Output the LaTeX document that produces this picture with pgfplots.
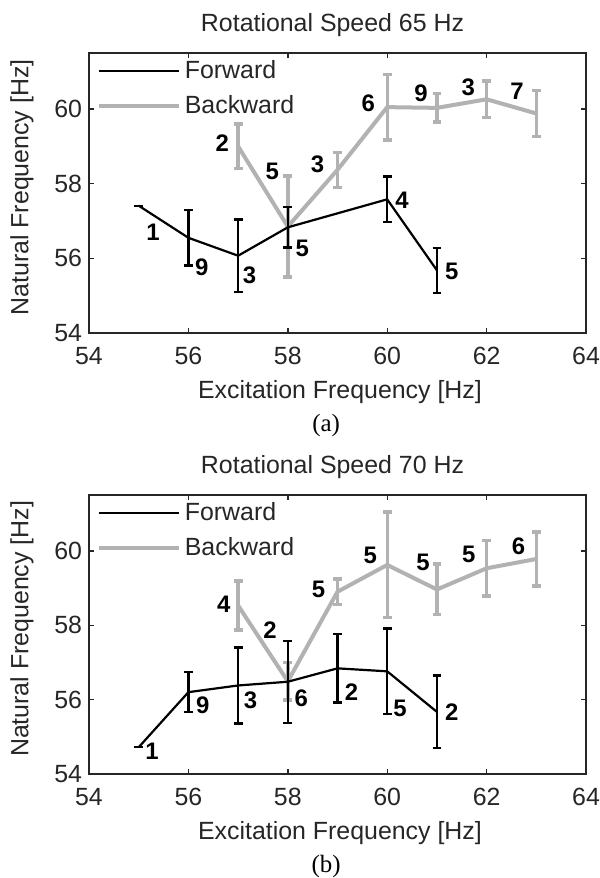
\documentclass[border=0pt]{standalone}
\usepackage{fontspec}
\setmainfont{Liberation Sans}
\newfontfamily\capfont{Liberation Serif}
\usepackage{pgfplots}
\usepackage{pgfplotstable}
\pgfplotsset{compat=1.18}
\definecolor{bwgray}{RGB}{178,178,178}
\definecolor{axcol}{RGB}{38,38,38}

% x = excitation freq, y = natural freq, e = +/- error, (lx,ly,lab) = sample count label
\pgfplotstableread{
x  y      e     lx     ly     lab
55 57.41  0     55.29  56.70  1
56 56.55  0.74  56.27  55.77  9
57 56.07  0.97  57.23  55.55  3
58 56.83  0.54  58.29  56.26  5
60 57.58  0.61  60.30  57.56  4
61 55.68  0.60  61.30  55.64  5
}\fwdA
\pgfplotstableread{
x  y      e     lx     ly     lab
57 59.00  0.60  56.68  59.09  2
58 56.85  1.35  57.69  58.34  5
59 58.37  0.47  58.60  58.52  3
60 60.05  0.88  59.62  60.14  6
61 60.03  0.38  60.68  60.42  9
62 60.26  0.49  61.63  60.57  3
63 59.88  0.61  62.61  60.48  7
}\bwdA
\pgfplotstableread{
x  y      e     lx     ly     lab
55 54.72  0     55.27  54.60  1
56 56.20  0.54  56.29  55.85  9
57 56.38  1.02  57.25  55.98  3
58 56.48  1.10  58.27  56.03  6
59 56.84  0.92  59.28  56.20  2
60 56.76  1.15  60.26  55.76  5
61 55.67  0.98  61.30  55.67  2
}\fwdB
\pgfplotstableread{
x  y      e     lx     ly     lab
57 58.53  0.66  56.71  58.56  4
58 56.49  0.50  57.64  57.87  2
59 58.90  0.34  58.62  58.96  5
60 59.62  1.42  59.66  59.89  5
61 58.96  0.68  60.72  59.70  5
62 59.53  0.75  61.64  59.91  5
63 59.78  0.73  62.64  60.12  6
}\bwdB

\pgfplotsset{
  legend image code/.code={\draw[#1] (0bp,0bp) -- (40bp,0bp);},
  freqax/.style={
    scale only axis, width=248.5bp, height=140bp,
    xmin=54, xmax=64, ymin=54, ymax=61.5,
    xtick={54,56,...,64}, ytick={54,56,58,60},
    tick align=inside, tick pos=both, major tick length=2.5bp,
    axis line style={axcol, line width=0.7bp},
    every tick/.style={axcol, line width=0.7bp},
    tick label style={font=\fontsize{12.5}{14}\selectfont, text=axcol},
    xticklabel style={yshift=-3.5bp},
    /pgf/number format/assume math mode=true,
    label style={font=\fontsize{12.5}{14}\selectfont, text=axcol},
    xlabel style={at={(axis description cs:0.505,-0.21)}, anchor=center},
    ylabel style={at={(axis description cs:-0.135,0.52)}, anchor=center},
    xlabel={Excitation Frequency [Hz]},
    ylabel={Natural Frequency [Hz]},
    legend style={at={(axis description cs:0.003,1.003)}, anchor=north west,
      draw=none, fill=none, font=\fontsize{12.5}{14}\selectfont, text=axcol,
      row sep=3bp},
    legend cell align=left, reverse legend,
    clip mode=individual,
  },
  fwdline/.style={black, line width=1.1bp, line join=round,
    error bars/.cd, y dir=both, y explicit,
    error bar style={line width=1.1bp, black},
    error mark options={rotate=90, black, mark size=2.2bp, line width=1.1bp}},
  bwdline/.style={bwgray, line width=2bp, line join=round,
    error bars/.cd, y dir=both, y explicit,
    error bar style={line width=1.7bp, bwgray},
    error mark options={rotate=90, bwgray, mark size=2.2bp, line width=1.7bp}},
  cntlabel/.style={draw=none, mark=none, forget plot, nodes near coords,
    point meta=explicit symbolic,
    nodes near coords style={anchor=center, text=black,
      font=\bfseries\fontsize{12}{14}\selectfont}},
}

\begin{document}
\begin{tikzpicture}
\path[use as bounding box] (0,0) rectangle (300bp,439bp);

\begin{axis}[freqax, at={(44.5bp,272.5bp)}, anchor=south west]
\addplot[bwdline] table[x=x, y=y, y error=e] {\bwdA};
\addlegendentry{Backward}
\addplot[fwdline] table[x=x, y=y, y error=e] {\fwdA};
\addlegendentry{Forward}
\addplot[cntlabel] table[x=lx, y=ly, meta=lab] {\bwdA};
\addplot[cntlabel] table[x=lx, y=ly, meta=lab] {\fwdA};
\node[font=\fontsize{12.5}{14}\selectfont, text=axcol] at (axis description cs:0.49,1.1) {Rotational Speed 65 Hz};
\node[font=\capfont\fontsize{12.5}{14}\selectfont] at (axis description cs:0.477,-0.33) {(a)};
\end{axis}

\begin{axis}[freqax, at={(44.5bp,52bp)}, anchor=south west, height=139.5bp]
\addplot[bwdline] table[x=x, y=y, y error=e] {\bwdB};
\addlegendentry{Backward}
\addplot[fwdline] table[x=x, y=y, y error=e] {\fwdB};
\addlegendentry{Forward}
\addplot[cntlabel] table[x=lx, y=ly, meta=lab] {\bwdB};
\addplot[cntlabel] table[x=lx, y=ly, meta=lab] {\fwdB};
\node[font=\fontsize{12.5}{14}\selectfont, text=axcol] at (axis description cs:0.49,1.1) {Rotational Speed 70 Hz};
\node[font=\capfont\fontsize{12.5}{14}\selectfont] at (axis description cs:0.477,-0.33) {(b)};
\end{axis}
\end{tikzpicture}
\end{document}
